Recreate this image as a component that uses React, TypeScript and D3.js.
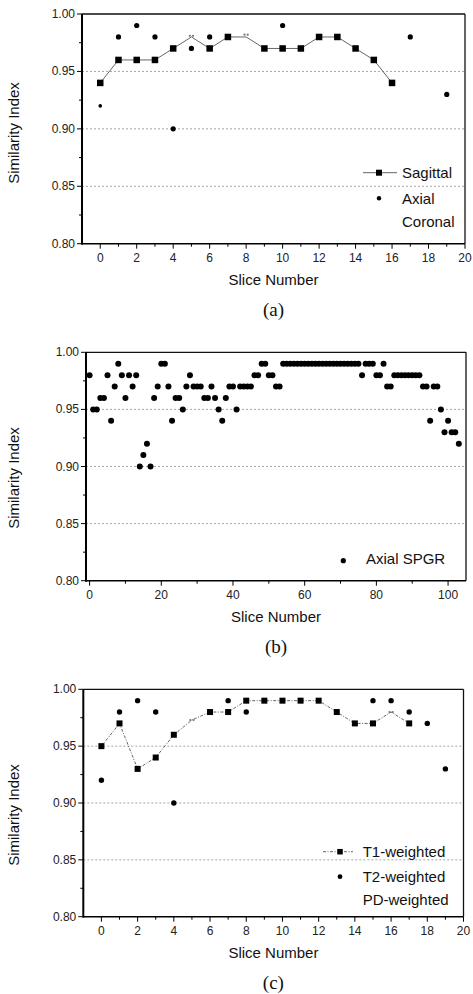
import React from "react";
import * as d3 from "d3";

// ---- (a) sagittal / axial / coronal ----
const sagittalSlices = [0, 1, 2, 3, 4, 5, 6, 7, 8, 9, 10, 11, 12, 13, 14, 15, 16];
const sagittalValues = [0.94, 0.96, 0.96, 0.96, 0.97, 0.98, 0.97, 0.98, 0.98, 0.97, 0.97, 0.97, 0.98, 0.98, 0.97, 0.96, 0.94];
const axialSlices = [0, 1, 2, 3, 4, 5, 6, 10, 17, 19];
const axialValues = [0.92, 0.98, 0.99, 0.98, 0.9, 0.97, 0.98, 0.99, 0.98, 0.93];
const coronalSlices = [5, 8];
const coronalValues = [0.981, 0.982];

// ---- (b) axial SPGR, slice = index ----
const spgrValues = [
  0.98, 0.95, 0.95, 0.96, 0.96, 0.98, 0.94, 0.97, 0.99, 0.98,
  0.96, 0.98, 0.97, 0.98, 0.9, 0.91, 0.92, 0.9, 0.96, 0.97,
  0.99, 0.99, 0.97, 0.94, 0.96, 0.96, 0.95, 0.97, 0.98, 0.97,
  0.97, 0.97, 0.96, 0.96, 0.97, 0.96, 0.95, 0.94, 0.96, 0.97,
  0.97, 0.95, 0.97, 0.97, 0.97, 0.97, 0.98, 0.98, 0.99, 0.99,
  0.98, 0.98, 0.97, 0.97, 0.99, 0.99, 0.99, 0.99, 0.99, 0.99,
  0.99, 0.99, 0.99, 0.99, 0.99, 0.99, 0.99, 0.99, 0.99, 0.99,
  0.99, 0.99, 0.99, 0.99, 0.99, 0.99, 0.98, 0.99, 0.99, 0.99,
  0.98, 0.98, 0.99, 0.97, 0.97, 0.98, 0.98, 0.98, 0.98, 0.98,
  0.98, 0.98, 0.98, 0.97, 0.97, 0.94, 0.97, 0.97, 0.95, 0.93,
  0.94, 0.93, 0.93, 0.92,
];

// ---- (c) T1 / T2 / PD weighted ----
const t1Slices = [0, 1, 2, 3, 4, 5, 6, 7, 8, 9, 10, 11, 12, 13, 14, 15, 16, 17];
const t1Values = [0.95, 0.97, 0.93, 0.94, 0.96, 0.973, 0.98, 0.98, 0.99, 0.99, 0.99, 0.99, 0.99, 0.98, 0.97, 0.97, 0.98, 0.97];
const t2Slices = [0, 1, 2, 3, 4, 7, 8, 15, 16, 17, 18, 19];
const t2Values = [0.92, 0.98, 0.99, 0.98, 0.9, 0.99, 0.98, 0.99, 0.99, 0.98, 0.97, 0.93];
const pdSlices = [5, 16];
const pdValues = [0.973, 0.98];

const yTicks = [0.8, 0.85, 0.9, 0.95, 1.0];
const yMinorTicks = [0.825, 0.875, 0.925, 0.975];
const gridValues = [0.85, 0.9, 0.95];

const SANS = "'Liberation Sans', Arial, sans-serif";
const SERIF = "'Liberation Serif', 'Times New Roman', serif";
const fmt = d3.format(".2f");

function Axes({ f, x, y, majorStep, minorStep, xMax, caption, labelCy }) {
  const xMajor = d3.range(0, xMax + 1e-9, majorStep);
  const xMinor = d3.range(minorStep, xMax, majorStep);
  const cx = (f.left + f.right) / 2;
  return (
    <g>
      {gridValues.map((v) => (
        <line key={v} x1={f.left} x2={f.right} y1={y(v)} y2={y(v)}
          stroke="#8f8f8f" strokeWidth={0.8} strokeDasharray="2 2" />
      ))}
      <line x1={f.left} x2={f.right} y1={f.top} y2={f.top} stroke="#111" strokeWidth={1.3} />
      <line x1={f.right} x2={f.right} y1={f.top} y2={f.bottom} stroke="#111" strokeWidth={1.3} />
      <line x1={f.left} x2={f.left} y1={f.top} y2={f.bottom + 1} stroke="#000" strokeWidth={2} />
      <line x1={f.left} x2={f.right} y1={f.bottom} y2={f.bottom} stroke="#000" strokeWidth={1.6} />
      {yTicks.map((v) => (
        <g key={v}>
          <line x1={f.left - 5} x2={f.left} y1={y(v)} y2={y(v)} stroke="#000" strokeWidth={1} />
          <text x={f.left - 7} y={y(v)} textAnchor="end" dominantBaseline="central"
            fontSize={12} fontFamily={SANS} fill="#222">{fmt(v)}</text>
        </g>
      ))}
      {yMinorTicks.map((v) => (
        <line key={v} x1={f.left - 3} x2={f.left} y1={y(v)} y2={y(v)} stroke="#000" strokeWidth={1} />
      ))}
      {xMajor.map((v) => (
        <g key={v}>
          <line x1={x(v)} x2={x(v)} y1={f.bottom} y2={f.bottom + 5} stroke="#000" strokeWidth={1} />
          <text x={x(v)} y={f.bottom + 18} textAnchor="middle"
            fontSize={12} fontFamily={SANS} fill="#222">{v}</text>
        </g>
      ))}
      {xMinor.map((v) => (
        <line key={v} x1={x(v)} x2={x(v)} y1={f.bottom} y2={f.bottom + 3} stroke="#000" strokeWidth={1} />
      ))}
      <text x={cx} y={f.bottom + 41} textAnchor="middle" fontSize={15} fontFamily={SANS} fill="#111">
        Slice Number
      </text>
      <text transform={`translate(19,${labelCy}) rotate(-90)`} textAnchor="middle"
        fontSize={15} fontFamily={SANS} fill="#111">Similarity Index</text>
      <text x={cx} y={f.bottom + 72} textAnchor="middle" fontSize={19} fontFamily={SERIF} fill="#111">
        {caption}
      </text>
    </g>
  );
}

function Square({ cx, cy, s = 6.5 }) {
  return <rect x={cx - s / 2} y={cy - s / 2} width={s} height={s} fill="#000" />;
}

function Faint({ cx, cy }) {
  return (
    <g fill="#777">
      <circle cx={cx - 1.6} cy={cy} r={1.1} />
      <circle cx={cx + 1.6} cy={cy} r={1.1} />
    </g>
  );
}

function PanelA() {
  const f = { left: 82, right: 465, top: 14, bottom: 243.7 };
  const x = d3.scaleLinear().domain([-1, 20]).range([f.left, f.right]);
  const y = d3.scaleLinear().domain([0.8, 1.0]).range([f.bottom, f.top]);
  const line = d3.line().x((d) => x(d[0])).y((d) => y(d[1]));
  const sag = sagittalSlices.map((s, i) => [s, sagittalValues[i]]);
  return (
    <g>
      <Axes f={f} x={x} y={y} majorStep={2} minorStep={1} xMax={20} caption="(a)" labelCy={133} />
      <path d={line(sag)} fill="none" stroke="#555" strokeWidth={0.9} />
      {sag.filter((d) => !coronalSlices.includes(d[0])).map((d) => (
        <Square key={d[0]} cx={x(d[0])} cy={y(d[1])} />
      ))}
      {coronalSlices.map((s, i) => (
        <Faint key={s} cx={x(s)} cy={y(coronalValues[i])} />
      ))}
      {axialSlices.map((s, i) => (
        <circle key={s} cx={x(s)} cy={y(axialValues[i])} r={s === 0 ? 1.8 : 2.6} fill="#000" />
      ))}
      {/* legend */}
      <line x1={363} x2={397} y1={172.7} y2={172.7} stroke="#555" strokeWidth={0.9} />
      <Square cx={379} cy={172.7} s={6} />
      <text x={402} y={178} fontSize={15} fontFamily={SANS} fill="#111">Sagittal</text>
      <circle cx={379} cy={198.3} r={2.2} fill="#000" />
      <text x={402} y={203.5} fontSize={15} fontFamily={SANS} fill="#111">Axial</text>
      <text x={402} y={226.5} fontSize={15} fontFamily={SANS} fill="#111">Coronal</text>
    </g>
  );
}

function PanelB() {
  const f = { left: 86, right: 466, top: 352.3, bottom: 580.7 };
  const x = d3.scaleLinear().domain([-1, 105]).range([f.left, f.right]);
  const y = d3.scaleLinear().domain([0.8, 1.0]).range([f.bottom, f.top]);
  return (
    <g>
      <Axes f={f} x={x} y={y} majorStep={20} minorStep={10} xMax={100} caption="(b)" labelCy={478} />
      {spgrValues.map((v, i) => (
        <circle key={i} cx={x(i)} cy={y(v)} r={3} fill="#000" />
      ))}
      <circle cx={343.3} cy={560.7} r={2.6} fill="#000" />
      <text x={366} y={564} fontSize={15} fontFamily={SANS} fill="#111">Axial SPGR</text>
    </g>
  );
}

function PanelC() {
  const f = { left: 83.3, right: 463.5, top: 689.3, bottom: 916.7 };
  const x = d3.scaleLinear().domain([-1, 20]).range([f.left, f.right]);
  const y = d3.scaleLinear().domain([0.8, 1.0]).range([f.bottom, f.top]);
  const line = d3.line().x((d) => x(d[0])).y((d) => y(d[1]));
  const t1 = t1Slices.map((s, i) => [s, t1Values[i]]);
  return (
    <g>
      <Axes f={f} x={x} y={y} majorStep={2} minorStep={1} xMax={20} caption="(c)" labelCy={815} />
      <path d={line(t1)} fill="none" stroke="#555" strokeWidth={0.9} strokeDasharray="3 1.5 1 1.5" />
      {t1.filter((d) => !pdSlices.includes(d[0])).map((d) => (
        <Square key={d[0]} cx={x(d[0])} cy={y(d[1])} s={6} />
      ))}
      {pdSlices.map((s, i) => (
        <Faint key={s} cx={x(s)} cy={y(pdValues[i])} />
      ))}
      {t2Slices.map((s, i) => (
        <circle key={s} cx={x(s)} cy={y(t2Values[i])} r={2.7} fill="#000" />
      ))}
      <line x1={323} x2={353} y1={851.7} y2={851.7} stroke="#555" strokeWidth={0.9} strokeDasharray="3 1.5 1 1.5" />
      <Square cx={340} cy={851.7} s={5.5} />
      <text x={362.7} y={857} fontSize={15} fontFamily={SANS} fill="#111">T1-weighted</text>
      <circle cx={340} cy={876.7} r={2.4} fill="#000" />
      <text x={362.7} y={882} fontSize={15} fontFamily={SANS} fill="#111">T2-weighted</text>
      <text x={362.7} y={905} fontSize={15} fontFamily={SANS} fill="#111">PD-weighted</text>
    </g>
  );
}

export default function App() {
  return (
    <svg width={473} height={994} style={{ position: "absolute", left: 0, top: 0, background: "#fff" }}>
      <rect width={473} height={994} fill="#fff" />
      <PanelA />
      <PanelB />
      <PanelC />
    </svg>
  );
}
